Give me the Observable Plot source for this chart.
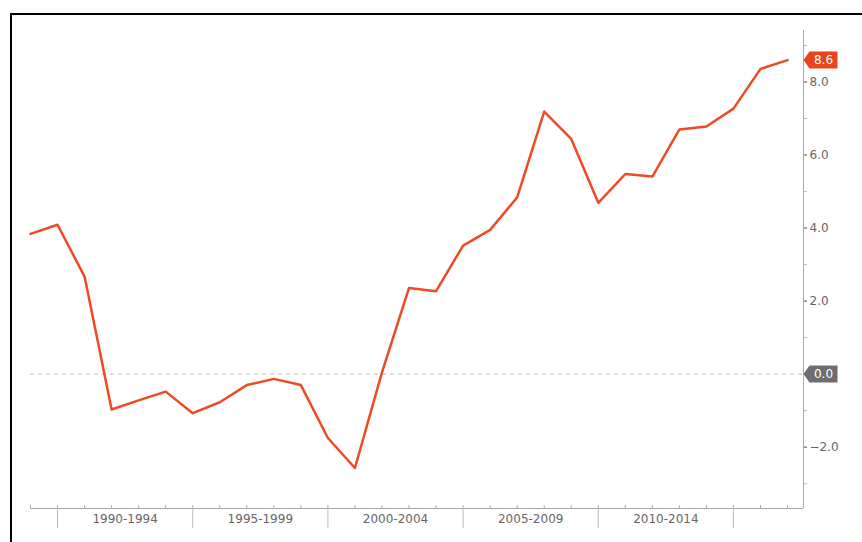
<!DOCTYPE html>
<html><head><meta charset="utf-8">
<script src="https://cdn.jsdelivr.net/npm/d3@7"></script>
<script src="https://cdn.jsdelivr.net/npm/@observablehq/plot@0.6"></script>
<style>
html,body{margin:0;padding:0;background:#fff;}
#wrap{position:relative;width:862px;height:542px;overflow:hidden;background:#fff;}
#frame{position:absolute;left:10px;top:13px;width:900px;height:600px;border-top:2px solid #000;border-left:2px solid #000;}
#chart{position:absolute;left:0;top:0;}
</style></head><body>
<div id="wrap"><div id="frame"></div><div id="chart"></div></div>
<script>
const years = [1989,1990,1991,1992,1993,1994,1995,1996,1997,1998,1999,2000,2001,2002,2003,2004,2005,2006,2007,2008,2009,2010,2011,2012,2013,2014,2015,2016,2017];
const values = [3.84,4.09,2.67,-0.97,-0.72,-0.48,-1.07,-0.77,-0.30,-0.13,-0.30,-1.75,-2.57,0.05,2.36,2.27,3.52,3.95,4.84,7.19,6.44,4.69,5.48,5.41,6.70,6.78,7.27,8.36,8.6];
const periodStarts = [1990,1995,2000,2005,2010];
const periodLabels = ["1990-1994","1995-1999","2000-2004","2005-2009","2010-2014"];
const majorXTicks = [1990,1995,2000,2005,2010,2015];
const yTicks = [-2,2,4,6,8];
const yMinorTicks = [-3,-1,1,3,5,7,9];
const badgeValues = [8.6, 0];
const badgeLabels = ["8.6","0.0"];

const xMin = 1989, xMax = 2017.59;
const yMin = -3.68, yMax = 9.41;

const series = years.map((y,i)=>({year:y, value:values[i]}));
const badges = badgeValues.map((v,i)=>({value:v, label:badgeLabels[i], i}));
const periods = periodLabels.map((l,i)=>({x:periodStarts[i]+2.5, label:l}));

const badgeSymbol = {draw(ctx){ ctx.moveTo(0,0); ctx.lineTo(6,-8.5); ctx.lineTo(34,-8.5); ctx.lineTo(34,8.5); ctx.lineTo(6,8.5); ctx.closePath(); }};

const chart = Plot.plot({
  width: 862, height: 542,
  marginLeft: 30, marginRight: 59, marginTop: 30, marginBottom: 34,
  style: {fontFamily: "'DejaVu Sans', sans-serif", fontSize: "12px", background: "transparent", color: "#666"},
  x: {domain: [xMin, xMax]},
  y: {domain: [yMin, yMax]},
  marks: [
    Plot.ruleY([0], {stroke: "#bbb", strokeDasharray: "4,4", strokeWidth: 1}),
    Plot.ruleY([yMin], {stroke: "#aaa", strokeWidth: 1}),
    Plot.ruleX([xMax], {stroke: "#aaa", strokeWidth: 1}),
    Plot.ruleX(years, {x: d=>d, y1: yMin, y2: yMin + 0.08, stroke: "#aaa"}),
    Plot.axisX({ticks: majorXTicks, tickSize: 20, tickFormat: () => "", stroke: "#bbb", label: null}),
    Plot.axisY({anchor: "right", ticks: yMinorTicks, tickSize: 3, tickFormat: () => "", stroke: "#bbb", label: null}),
    Plot.axisY({anchor: "right", ticks: yTicks, tickSize: 3, tickPadding: 3, tickFormat: d3.format(".1f"), stroke: "#444", fill: "#666", label: null}),
    Plot.text(periods, {x: "x", y: () => yMin, text: "label", dy: 11, fill: "#666", fontSize: 12}),
    Plot.line(series, {x: "year", y: "value", stroke: "#ee4a27", strokeWidth: 2.5}),
    Plot.dot(badges, {x: () => xMax, y: "value", symbol: badgeSymbol, r: 8, fill: d => d.i === 0 ? "#e8431a" : "#6e6e6e", stroke: "none"}),
    Plot.text(badges, {x: () => xMax, y: "value", text: "label", dx: 20, fill: "white", fontSize: 12})
  ]
});
document.getElementById("chart").appendChild(chart);
</script>
</body></html>
